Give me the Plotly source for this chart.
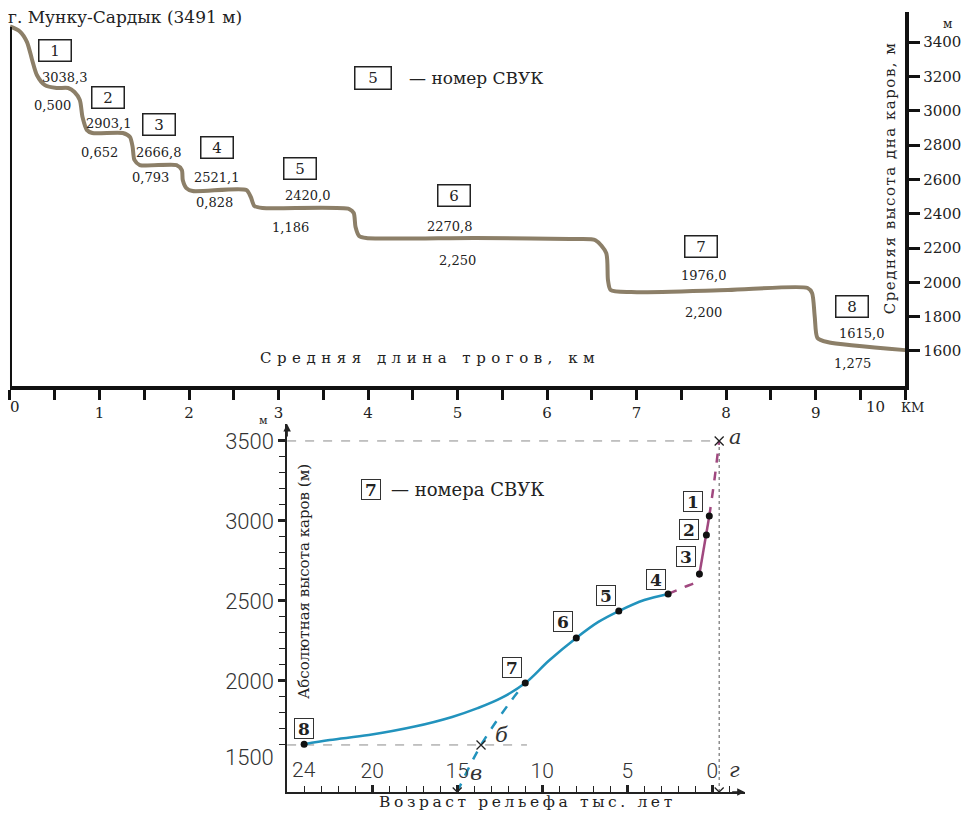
import plotly.graph_objects as go

# page body has an 8px margin; the figure fills the remaining area
W, H = 953, 804
OFF = 8
SERIF = "DejaVu Serif"
SANS = "Roboto"


def PX(px):
    return (px - OFF) / W


def PY(py):
    return 1 - (py - OFF) / H


# ---------------- top chart data (profile of troughs) ----------------
profile_km = [0.0, 0.11, 0.19, 0.245, 0.30, 0.39, 0.52, 0.65, 0.72, 0.78, 0.81, 0.86, 0.92,
              1.26, 1.34, 1.37, 1.39, 1.45, 1.86, 1.92, 1.93, 1.97, 2.04, 2.64, 2.69, 2.73,
              2.82, 3.79, 3.84, 3.86, 3.90, 3.98, 5.2, 6.3, 6.54, 6.66, 6.68, 6.71, 6.94,
              8.02, 8.91, 8.96, 8.99, 9.02, 9.13, 10.0]
profile_m = [3491, 3462, 3400, 3300, 3208, 3149, 3132, 3132, 3109, 3062, 2963, 2887, 2870,
             2870, 2847, 2788, 2713, 2683, 2683, 2654, 2596, 2549, 2532, 2538, 2497, 2445,
             2433, 2427, 2404, 2322, 2270, 2258, 2258, 2252, 2245, 2171, 2013, 1955, 1943,
             1955, 1967, 1938, 1798, 1676, 1652, 1605]

svuk_labels = ["1", "2", "3", "4", "5", "6", "7", "8"]
cirque_floor_m = ["3038,3", "2903,1", "2666,8", "2521,1", "2420,0", "2270,8", "1976,0", "1615,0"]
trough_len_km = ["0,500", "0,652", "0,793", "0,828", "1,186", "2,250", "2,200", "1,275"]

top_x_ticks = [0, 1, 2, 3, 4, 5, 6, 7, 8, 9, 10]
top_x_labels = ["", "1", "2", "3", "4", "5", "6", "7", "8", "9", ""]
top_y_ticks = [1600, 1800, 2000, 2200, 2400, 2600, 2800, 3000, 3200, 3400]

# ---------------- bottom chart data (age vs height) ----------------
svuk_age = [0.18, 0.35, 0.76, 2.6, 5.5, 8.0, 11.0, 24.0]
svuk_h = [3031, 2912, 2669, 2544, 2437, 2269, 1987, 1605]

cyan_age = [24.0, 22.5, 20.2, 17.5, 15.3, 13.8, 12.4, 11.0, 9.6, 8.0, 6.7, 5.5, 4.0, 2.6]
cyan_h = [1605, 1631, 1662, 1715, 1775, 1830, 1894, 1987, 2128, 2269, 2369, 2437, 2506, 2544]

cyan_dash_age = [15.0, 13.6, 11.8, 11.0]
cyan_dash_h = [1306, 1600, 1881, 1987]

mag_dash_low_age = [2.6, 1.64, 0.88, 0.76]
mag_dash_low_h = [2544, 2587, 2625, 2669]
mag_solid_age = [0.76, 0.35, 0.18]
mag_solid_h = [2669, 2912, 3031]
mag_dash_up_age = [0.18, -0.12, -0.4]
mag_dash_up_h = [3031, 3256, 3500]

cross_age = [-0.4, -0.4, 13.6, 15.0]
cross_h = [3500, 1306, 1600, 1306]
cross_letters = ["а", "г", "б", "в"]

ref_top_h = 3500
ref_low_h = 1600
ref_low_end_age = 10.9
ref_now_age = -0.4

bottom_x_ticks = [20, 15, 10, 5, 0]
bottom_x_labels = ["20", "15", "10", "5", "0"]
bottom_y_ticks = [1500, 2000, 2500, 3000, 3500]
bottom_y_labels = ["", "2000", "2500", "3000", "3500"]

# axis ranges
TOP_X = [0, 10]
TOP_Y = [1396, 3575]
BOT_X = [25, -1.9]
BOT_Y = [1306, 3606]

BROWN = "#8c7f68"
CYAN = "#2293bd"
MAGENTA = "#a0487f"
GRAY = "#8a8a8a"
INK = "#222"

fig = go.Figure()

# ---- top chart ----
fig.add_trace(go.Scatter(x=profile_km, y=profile_m, mode="lines",
                         line=dict(color=BROWN, width=4, shape="spline", smoothing=0.7),
                         xaxis="x", yaxis="y", hoverinfo="skip"))

# ---- bottom chart ----
fig.add_trace(go.Scatter(x=[BOT_X[0], ref_now_age], y=[ref_top_h, ref_top_h], mode="lines",
                         line=dict(color=GRAY, width=1, dash="dash"), xaxis="x2", yaxis="y2"))
fig.add_trace(go.Scatter(x=[BOT_X[0], ref_low_end_age], y=[ref_low_h, ref_low_h], mode="lines",
                         line=dict(color=GRAY, width=1, dash="dash"), xaxis="x2", yaxis="y2"))
fig.add_trace(go.Scatter(x=[ref_now_age, ref_now_age], y=[BOT_Y[0], ref_top_h], mode="lines",
                         line=dict(color="#555", width=1, dash="dot"), xaxis="x2", yaxis="y2"))
fig.add_trace(go.Scatter(x=cyan_dash_age, y=cyan_dash_h, mode="lines",
                         line=dict(color=CYAN, width=2.5, dash="dash", shape="spline"),
                         xaxis="x2", yaxis="y2"))
fig.add_trace(go.Scatter(x=cyan_age, y=cyan_h, mode="lines",
                         line=dict(color=CYAN, width=2.5, shape="spline", smoothing=1.0),
                         xaxis="x2", yaxis="y2"))
fig.add_trace(go.Scatter(x=mag_dash_low_age, y=mag_dash_low_h, mode="lines",
                         line=dict(color=MAGENTA, width=2.5, dash="dash", shape="spline"),
                         xaxis="x2", yaxis="y2"))
fig.add_trace(go.Scatter(x=mag_solid_age, y=mag_solid_h, mode="lines",
                         line=dict(color=MAGENTA, width=2.5), xaxis="x2", yaxis="y2"))
fig.add_trace(go.Scatter(x=mag_dash_up_age, y=mag_dash_up_h, mode="lines",
                         line=dict(color=MAGENTA, width=2.5, dash="dash", shape="spline"),
                         xaxis="x2", yaxis="y2"))
fig.add_trace(go.Scatter(x=svuk_age, y=svuk_h, mode="markers",
                         marker=dict(color="#111", size=7), xaxis="x2", yaxis="y2"))
fig.add_trace(go.Scatter(x=cross_age, y=cross_h, mode="markers",
                         marker=dict(symbol="x-thin", size=9, line=dict(color=INK, width=1.3)),
                         xaxis="x2", yaxis="y2"))

ann = []


def ptext(text, px, py, size, family=SERIF, angle=0, xanchor="center", color=INK, **kw):
    ann.append(dict(text=text, xref="paper", yref="paper", x=PX(px), y=PY(py),
                    xanchor=xanchor, yanchor="middle", showarrow=False, textangle=angle,
                    font=dict(family=family, size=size, color=color, **kw)))


# top chart title and texts
ptext("г. Мунку-Сардык (3491 м)", 6, 17, 17, xanchor="left")

box_km = [0.50, 1.09, 1.66, 2.31, 3.24, 4.96, 7.72, 9.41]
box_m = [3350, 3079, 2922, 2788, 2666, 2503, 2211, 1862]
val_km = [0.61, 1.11, 1.67, 2.31, 3.33, 4.92, 7.75, 9.52]
val_m = [3196, 2928, 2759, 2613, 2503, 2328, 2042, 1704]
len_km = [0.47, 1.00, 1.57, 2.29, 3.13, 5.00, 7.75, 9.41]
len_m = [3033, 2759, 2613, 2467, 2322, 2129, 1826, 1529]
for i, lab in enumerate(svuk_labels):
    ann.append(dict(text=lab, x=box_km[i], y=box_m[i], xref="x", yref="y", showarrow=False,
                    xanchor="center", yanchor="middle",
                    font=dict(family=SERIF, size=15, color=INK),
                    bordercolor=INK, borderwidth=1.5, borderpad=1, width=29, height=18,
                    bgcolor="white"))
    ann.append(dict(text=cirque_floor_m[i], x=val_km[i], y=val_m[i], xref="x", yref="y",
                    xanchor="center", yanchor="middle",
                    showarrow=False, font=dict(family=SERIF, size=13, color=INK)))
    ann.append(dict(text=trough_len_km[i], x=len_km[i], y=len_m[i], xref="x", yref="y",
                    xanchor="center", yanchor="middle",
                    showarrow=False, font=dict(family=SERIF, size=13, color=INK)))

# top legend
ann.append(dict(text="5", x=4.05, y=3190, xref="x", yref="y", showarrow=False,
                xanchor="center", yanchor="middle",
                font=dict(family=SERIF, size=15, color=INK),
                bordercolor=INK, borderwidth=1.5, borderpad=1, width=33, height=19,
                bgcolor="white"))
ann.append(dict(text="— номер СВУК", x=4.44, y=3190, xref="x", yref="y", xanchor="left",
                yanchor="middle", showarrow=False, font=dict(family=SERIF, size=17, color=INK)))

ptext('<span style="letter-spacing:5.5px">Средняя длина трогов, км</span>', 431, 358, 15)
ptext('<span style="letter-spacing:1.5px">Средняя высота дна каров, м</span>', 893, 178, 15,
      angle=-90)
ptext("м", 950, 24, 12)
ptext("0", 15, 407, 15)
ptext("10", 878, 407, 15)
ptext("КМ", 915, 408, 13)

# bottom chart labels
b_age = [1.11, 1.35, 1.52, 3.33, 6.26, 8.77, 11.8, 24.0]
b_h = [3119, 2944, 2775, 2637, 2537, 2369, 2087, 1700]
for i, lab in enumerate(svuk_labels):
    ann.append(dict(text="<b>%s</b>" % lab, x=b_age[i], y=b_h[i], xref="x2", yref="y2",
                    showarrow=False, xanchor="center", yanchor="middle",
                    font=dict(family=SERIF, size=17, color=INK),
                    bordercolor="#333", borderwidth=1, borderpad=0, width=18, height=19,
                    bgcolor="white"))
ann.append(dict(text="<b>7</b>", x=20.06, y=3194, xref="x2", yref="y2", showarrow=False,
                xanchor="center", yanchor="middle",
                font=dict(family=SERIF, size=17, color=INK),
                bordercolor="#333", borderwidth=1, borderpad=0, width=18, height=19,
                bgcolor="white"))
ann.append(dict(text="— номера СВУК", x=19.0, y=3194, xref="x2", yref="y2", xanchor="left",
                yanchor="middle", showarrow=False, font=dict(family=SERIF, size=18, color=INK)))

let_age = [-1.35, -1.29, 12.4, 13.9]
let_h = [3525, 1444, 1662, 1425]
for i, lt in enumerate(cross_letters):
    ann.append(dict(text="<i>%s</i>" % lt, x=let_age[i], y=let_h[i], xref="x2", yref="y2",
                    xanchor="center", yanchor="middle",
                    showarrow=False, font=dict(family=SERIF, size=21, color="#333")))

ann.append(dict(text="24", x=24.0, y=1306, xref="x2", yref="y2", yshift=22, showarrow=False,
                xanchor="center", yanchor="middle",
                font=dict(family=SANS, size=21, color="#333", weight=300)))
ann.append(dict(text="1500", x=PX(277), y=1500, xref="paper", yref="y2", yshift=3,
                showarrow=False, xanchor="right", yanchor="middle",
                font=dict(family=SANS, size=22, color="#333", weight=300)))
ptext("Абсолютная высота каров (м)", 305, 582, 15, angle=-90)
ptext('<span style="letter-spacing:3.6px">Возраст рельефа тыс. лет</span>', 529, 802, 15.5)
ptext("м", 264, 420, 11)

# axis arrows
ann.append(dict(text="", x=BOT_X[1], y=BOT_Y[0], xref="x2", yref="y2", ax=-14, ay=0,
                showarrow=True, arrowhead=2, arrowsize=1, arrowwidth=1.5, arrowcolor=INK))
ann.append(dict(text="", x=BOT_X[0], y=BOT_Y[1], xref="x2", yref="y2", ax=0, ay=14,
                showarrow=True, arrowhead=2, arrowsize=1, arrowwidth=1.5, arrowcolor=INK))

fig.update_layout(
    width=W, height=H, autosize=False, showlegend=False,
    margin=dict(l=0, r=0, t=0, b=0),
    paper_bgcolor="white", plot_bgcolor="rgba(0,0,0,0)",
    annotations=ann,
    shapes=[dict(type="line", xref="x", yref="y domain", x0=0, x1=0, y0=0, y1=0.96,
                 line=dict(color="#111", width=4))],
    xaxis=dict(domain=[PX(10), PX(908)], range=TOP_X, anchor="y", showgrid=False,
               zeroline=False, showline=True, linewidth=4, linecolor="#111",
               ticks="outside", ticklen=10, tickwidth=3, tickcolor="#111",
               tickvals=top_x_ticks, ticktext=top_x_labels,
               minor=dict(tickvals=[v + 0.5 for v in top_x_ticks[:-1]], ticks="outside",
                          ticklen=10, tickwidth=3, tickcolor="#111"),
               tickfont=dict(family=SERIF, size=15, color=INK)),
    yaxis=dict(domain=[PY(386), PY(12)], range=TOP_Y, anchor="x", side="right",
               showgrid=False, zeroline=False, showline=True, linewidth=4, linecolor="#111",
               ticks="outside", ticklen=11, tickwidth=2.5, tickcolor="#111",
               tickvals=top_y_ticks, tickfont=dict(family=SERIF, size=15, color=INK)),
    xaxis2=dict(domain=[PX(288), PX(747)], range=BOT_X, anchor="y2", showgrid=False,
                zeroline=False, showline=True, linewidth=1.5, linecolor=INK,
                ticks="inside", ticklen=7, tickwidth=3, tickcolor=INK,
                tickvals=bottom_x_ticks, ticktext=bottom_x_labels,
                ticklabelposition="inside", ticklabelstandoff=4,
                minor=dict(tickvals=list(range(-1, 25)), ticks="inside", ticklen=6,
                           tickwidth=1.2, tickcolor=INK),
                tickfont=dict(family=SANS, size=21, color="#333", weight=300)),
    yaxis2=dict(domain=[PY(792), PY(424)], range=BOT_Y, anchor="x2", showgrid=False,
                zeroline=False, showline=True, linewidth=1.5, linecolor=INK,
                ticks="outside", ticklen=7, tickwidth=2.5, tickcolor=INK,
                tickvals=bottom_y_ticks, ticktext=bottom_y_labels,
                minor=dict(tickvals=list(range(1400, 3600, 100)), ticks="outside", ticklen=6,
                           tickwidth=1.2, tickcolor=INK),
                tickfont=dict(family=SANS, size=22, color="#333", weight=300)),
)

fig.write_html("out.html")
